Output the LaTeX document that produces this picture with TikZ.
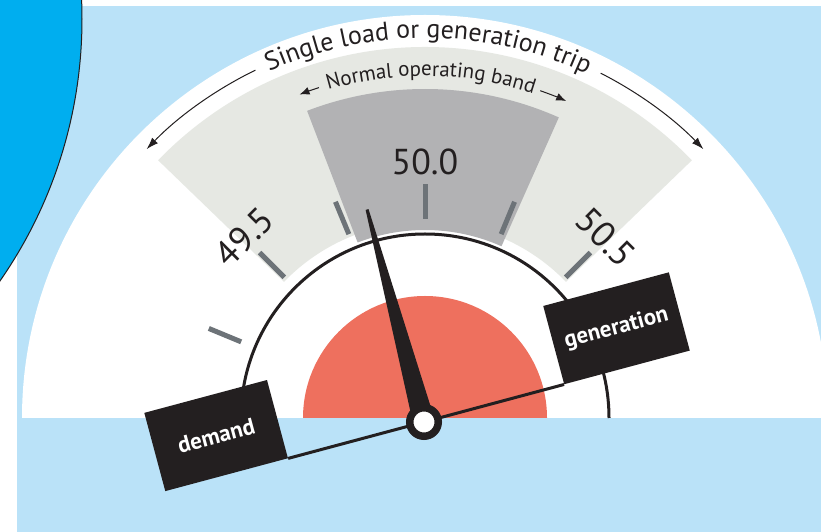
\documentclass[tikz,border=0pt]{standalone}
\usepackage{fontspec}
\setmainfont{PT Sans}
\usetikzlibrary{decorations.text,arrows.meta}
\definecolor{bgblue}{HTML}{BAE2F8}
\definecolor{cyanc}{HTML}{00AEEF}
\definecolor{lgrey}{HTML}{E6E8E3}
\definecolor{dgrey}{HTML}{B2B2B4}
\definecolor{redc}{HTML}{EE705E}
\definecolor{tickc}{HTML}{6D7378}
\definecolor{ink}{HTML}{231F20}
\begin{document}
\begin{tikzpicture}[x=1pt,y=1pt,
  tickmark/.style={tickc, line width=5pt},
  numlabel/.style={font=\fontsize{36}{36}\selectfont, text=ink, inner sep=0pt},
  loadbox/.style={fill=ink, text=white, inner sep=0pt, anchor=south west,
    minimum height=81pt, font=\bfseries\fontsize{23}{23}\selectfont},
  bigarrow/.style={ink, line width=1pt, -{Latex[length=12pt,width=8pt]}},
  smallarrow/.style={ink, line width=1pt, -{Latex[length=10pt,width=8pt]}}]
\useasboundingbox (0,0) rectangle (821,532);
\fill[white] (0,0) rectangle (821,532);
\fill[bgblue] (17,0) rectangle (821,526);
\begin{scope}[shift={(425,114)}]
  \fill[white] (180:403) arc[start angle=180,end angle=0,radius=403] -- cycle;
  \fill[lgrey] (44:371) arc[start angle=44,end angle=136,radius=371]
     -- (136:196) arc[start angle=136,end angle=44,radius=196] -- cycle;
  \fill[dgrey] (66:329) arc[start angle=66,end angle=111,radius=329]
     -- (111:188) arc[start angle=111,end angle=66,radius=188] -- cycle;
  \fill[redc] (180:122) arc[start angle=180,end angle=0,radius=122] -- cycle;
  \foreach \a in {157.5,135,112.5,90,67.5,45,22.5}
    \draw[tickmark] (\a:199) -- (\a:234);
  \draw[ink, line width=3pt] (180:184) arc[start angle=180,end angle=0,radius=184];
  \node[numlabel, rotate=45] (n495) at (135:256) {49.5};
  \node[numlabel] (n500) at (90:256) {50.0};
  \node[numlabel, rotate=-45] (n505) at (45:256) {50.5};
  \path[decorate, decoration={text along path, text align=center,
      text={|\fontsize{26}{30}\selectfont\color{ink}|Single load or generation trip}}]
      (135:380) arc[start angle=135,end angle=44,radius=380];
  \draw[bigarrow] (116:387) arc[start angle=116,end angle=136,radius=387];
  \draw[bigarrow] (63:387) arc[start angle=63,end angle=44,radius=387];
  \path[decorate, decoration={text along path, text align=center,
      text={|\fontsize{21}{25}\selectfont\color{ink}|Normal operating band}}]
      (110:342) arc[start angle=110,end angle=68,radius=342];
  \draw[smallarrow] (107.8:347) arc[start angle=107.8,end angle=111.2,radius=347];
  \draw[smallarrow] (70.6:347) arc[start angle=70.6,end angle=66,radius=347];
\end{scope}
\begin{scope}[shift={(424,110)}, rotate=15, transform shape]
  \node[loadbox, minimum width=127pt] (demand) at (-268,0) {demand};
  \node[loadbox, minimum width=130pt] (gen) at (145,0) {\raisebox{-4pt}{generation}};
  \draw[ink, line width=3pt] (demand.south east) -- (gen.south west);
\end{scope}
\begin{scope}[shift={(424,110)}, rotate=105]
  \fill[ink] (0,-11) -- (220,-1.5) -- (220,1.5) -- (0,11) -- cycle;
\end{scope}
\node[circle, draw=ink, line width=7.5pt, fill=white, minimum size=28.5pt, inner sep=0pt] (pivot) at (424,110) {};
\draw[fill=cyanc, draw=ink, line width=1pt] (-377,513) circle[radius=459];
\end{tikzpicture}
\end{document}
